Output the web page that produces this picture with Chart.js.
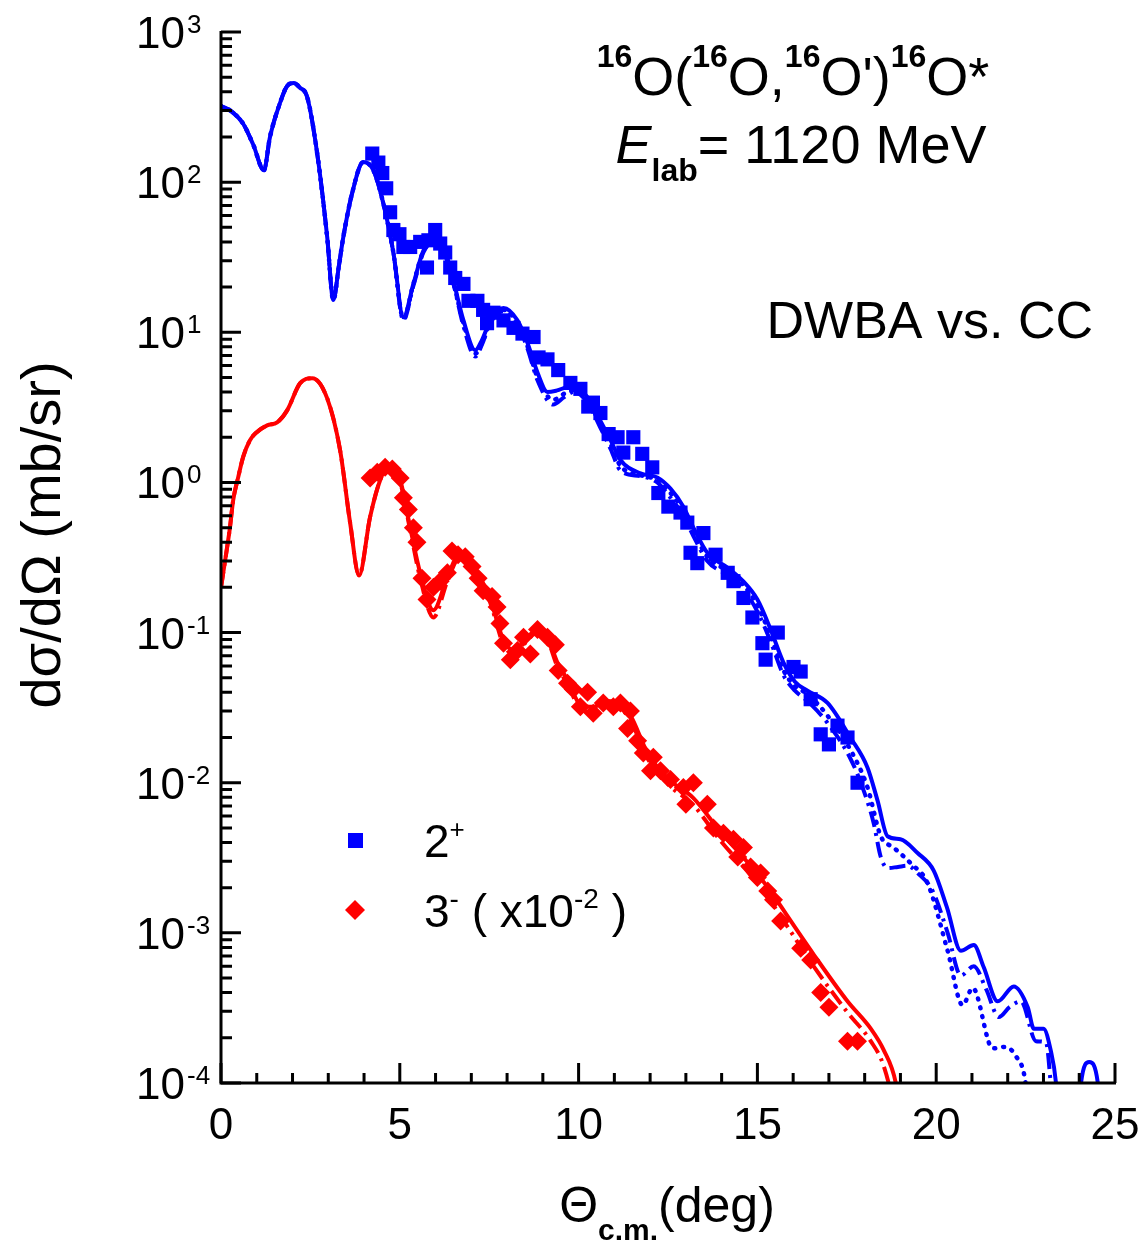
<!DOCTYPE html>
<html>
<head>
<meta charset="utf-8">
<script src="https://cdn.jsdelivr.net/npm/chart.js@4.4.1/dist/chart.umd.min.js"></script>
<style>
  html, body { margin: 0; padding: 0; background: #fff; }
  #wrap { width: 1141px; height: 1241px; }
</style>
</head>
<body>
<div id="wrap"><canvas id="chart" width="1141" height="1241"></canvas></div>
<script>
// 2+ data (mb/sr)
const blueDataX = [4.23,4.40,4.51,4.62,4.73,4.82,4.99,5.10,5.29,5.57,5.76,5.80,5.99,6.13,6.27,6.41,6.55,6.78,6.92,7.17,7.33,7.44,7.62,7.90,8.18,8.43,8.74,8.88,9.13,9.43,9.77,10.05,10.27,10.40,10.61,10.84,11.09,11.25,11.53,11.78,12.06,12.23,12.51,12.85,13.04,13.13,13.32,13.49,13.83,14.17,14.33,14.61,14.86,15.14,15.23,15.57,16.01,16.21,16.49,16.77,17.00,17.24,17.52,17.80];
const blueDataY = [155,135,115,91,63,48,45,37,37,40,27,41,48,39,34,27,23,21,16.2,16.2,14.1,11.5,13.5,12.0,10.7,9.8,9.3,6.8,6.6,5.6,4.6,4.2,3.2,3.4,2.9,2.1,2.0,1.58,2.0,1.55,1.26,0.85,0.69,0.63,0.54,0.34,0.29,0.46,0.33,0.25,0.22,0.17,0.126,0.085,0.066,0.10,0.059,0.055,0.036,0.021,0.018,0.024,0.020,0.010];

// 3- data (x10^-2)
const redDataX = [4.17,4.37,4.59,4.79,5.01,5.10,5.24,5.38,5.48,5.62,5.76,5.94,6.13,6.33,6.46,6.63,6.83,7.02,7.19,7.33,7.58,7.72,7.80,7.90,8.09,8.29,8.46,8.65,8.85,9.13,9.35,9.43,9.69,9.85,10.05,10.25,10.41,10.69,10.97,11.17,11.37,11.45,11.65,11.81,12.01,12.09,12.29,12.57,12.93,13.00,13.21,13.60,13.77,14.05,14.33,14.45,14.61,14.81,15.00,15.09,15.29,15.45,15.65,16.21,16.49,16.77,17.00,17.52,17.80];
const redDataY = [1.07,1.17,1.26,1.23,1.07,0.79,0.66,0.50,0.40,0.23,0.166,0.20,0.22,0.25,0.35,0.33,0.32,0.275,0.23,0.19,0.174,0.148,0.115,0.085,0.066,0.076,0.093,0.072,0.105,0.093,0.083,0.056,0.046,0.042,0.032,0.040,0.029,0.034,0.032,0.034,0.023,0.030,0.019,0.0158,0.012,0.0148,0.012,0.0105,0.0093,0.0072,0.010,0.0072,0.0050,0.0046,0.0042,0.0032,0.0037,0.00275,0.00234,0.0025,0.0019,0.00166,0.0012,7.9e-4,6.6e-4,4.0e-4,3.2e-4,1.9e-4,1.9e-4];

// 2+ curves: common forward part, then solid / dash-dot / dotted
const blueLowX = [0,0.3,0.62,0.9,1.2,1.37,1.65,1.85,2.04,2.2,2.41,2.69,2.97,3.14,3.3,3.42,3.67,3.98,4.26,4.54,4.82];
const blueLowY = [321,295,245,178,120,200,337,437,457,427,369,155,43,16.4,28,43,85,136,120,72,34];

const blueSolidX = [5.1,5.38,5.66,5.94,6.22,6.5,6.78,7.11,7.3,7.53,7.9,8.29,8.57,8.85,9.13,9.4,9.69,9.86,10.25,10.6,10.9,11.17,11.73,12.2,12.57,12.93,13.21,13.6,14.17,14.6,15.0,15.37,15.73,16.05,16.4,16.96,17.6,18.08,18.36,18.64,19.0,19.48,19.93,20.3,20.69,21.05,21.33,21.72,22.17,22.56,22.73,23.0,23.2,23.35,23.5,23.9,24.05,24.28,24.52,24.7];
const blueSolidY = [12.6,21,35,41,37,22,12,7.6,8.9,12,14.5,12,8.5,5.4,4.0,4.1,4.3,4.3,3.7,2.6,1.9,1.41,1.15,1.08,0.91,0.69,0.50,0.34,0.27,0.22,0.166,0.105,0.063,0.047,0.041,0.034,0.020,0.0126,0.0076,0.0044,0.0042,0.0034,0.0026,0.00148,7.6e-4,8.3e-4,5.9e-4,3.5e-4,4.4e-4,3.2e-4,2.3e-4,2.3e-4,1.66e-4,1.0e-4,3e-5,3e-5,1e-4,1.38e-4,1e-4,3e-5];

const blueDashDotX = [5.1,5.38,5.66,5.94,6.22,6.5,6.78,7.11,7.3,7.53,7.9,8.29,8.57,8.85,9.29,9.6,9.86,10.25,10.6,10.9,11.17,11.73,12.2,12.57,12.93,13.21,13.6,14.17,14.6,15.0,15.37,15.73,16.05,16.4,16.96,17.6,17.97,18.25,18.45,18.64,18.93,19.2,19.48,19.9,20.32,20.69,21.05,21.4,21.75,22.05,22.37,22.79,23.07,23.2,23.35];
const blueDashDotY = [12.0,20.4,34,40,35,21,11,6.9,8.3,11.5,13.8,11.2,7.8,4.8,3.3,3.7,4.0,3.4,2.34,1.66,1.2,1.10,1.0,0.79,0.60,0.44,0.30,0.24,0.195,0.138,0.087,0.052,0.041,0.035,0.025,0.0145,0.0089,0.0054,0.0032,0.0027,0.00275,0.0028,0.0025,0.0019,0.0010,5.2e-4,6.0e-4,4.2e-4,2.75e-4,3.2e-4,3.5e-4,1.9e-4,1.86e-4,1e-4,3e-5];

const blueDotX = [5.1,5.38,5.66,5.94,6.22,6.5,6.78,7.11,7.3,7.53,7.9,8.29,8.57,8.85,9.29,9.6,9.86,10.25,10.6,10.9,11.17,11.73,12.2,12.57,12.93,13.21,13.6,14.17,14.6,15.0,15.37,15.73,16.05,16.4,16.96,17.6,18.08,18.45,18.81,19.29,19.76,20.32,20.74,21.02,21.58,21.9,22.23,22.5,22.7];
const blueDotY = [12.3,21,34.7,40,36,21.4,11.5,7.2,8.5,11.7,14.1,11.5,8.1,5.0,3.55,3.9,4.1,3.55,2.45,1.78,1.29,1.12,1.035,0.85,0.65,0.47,0.32,0.257,0.209,0.151,0.095,0.056,0.044,0.039,0.028,0.0166,0.0093,0.0044,0.0037,0.0029,0.00214,7.6e-4,3.3e-4,4.3e-4,1.7e-4,1.74e-4,1.51e-4,1e-4,3e-5];

// 3- curves
const redLowX = [0,0.16,0.25,0.34,0.48,0.62,0.81,1.0,1.29,1.57,1.85,2.21,2.55,2.97,3.33,3.61,3.86,4.17,4.45,4.68];
const redLowY = [0.20,0.355,0.50,0.76,1.08,1.48,1.91,2.16,2.40,2.51,3.02,4.57,4.95,3.63,1.64,0.54,0.24,0.59,1.035,1.26];
const redTailX = [5.01,5.29,5.57,5.94,6.33,6.69,7.17,7.53,7.9,8.2,8.5,8.85,9.13,9.41,9.7,10.05,10.4,10.8,11.17,11.45,11.93,12.49,13.21,13.97,14.7,15.37,15.65,16.57,17.52,18.17,18.53,18.87,19.05];
const redSolidY = [1.035,0.50,0.25,0.141,0.234,0.34,0.25,0.166,0.089,0.076,0.089,0.105,0.093,0.063,0.048,0.033,0.032,0.035,0.033,0.028,0.0158,0.0107,0.0079,0.0047,0.0030,0.0019,0.00151,7.2e-4,3.5e-4,2.3e-4,1.66e-4,1.0e-4,5e-5];
const redDashDotY = [1.0,0.48,0.23,0.126,0.22,0.32,0.24,0.158,0.083,0.072,0.085,0.100,0.089,0.059,0.045,0.031,0.0295,0.032,0.031,0.026,0.0145,0.0098,0.0071,0.0041,0.0026,0.00162,0.00129,6.0e-4,2.95e-4,1.9e-4,1.3e-4,6e-5,3e-5];

const xMajor = [0, 5, 10, 15, 20, 25];
const yPowers = [-4, -3, -2, -1, 0, 1, 2, 3];

const BLUE = '#0000ff';
const RED = '#ff0000';
const FONT = '"Liberation Sans", Arial, Helvetica, sans-serif';

function pts(xs, ys) {
    return xs.map((x, i) => ({ x: x, y: ys[i] }));
}

function curve(data, color, dash) {
    const dotted = dash && dash[0] < 3;
    return {
        type: 'line',
        data: data,
        borderColor: color,
        borderWidth: dotted ? 4.5 : 4,
        borderDash: dash || [],
        borderCapStyle: dotted ? 'round' : 'butt',
        pointRadius: 0,
        cubicInterpolationMode: 'monotone',
        fill: false
    };
}

// draws a run of text pieces: {t, size, bold, italic, dy}
function richText(ctx, parts, x, y, align) {
    let total = 0;
    parts.forEach(p => {
        ctx.font = `${p.italic ? 'italic ' : ''}${p.bold ? 'bold ' : ''}${p.size}px ${FONT}`;
        p.w = ctx.measureText(p.t).width;
        total += p.w;
    });
    let cx = align === 'center' ? x - total / 2 : (align === 'right' ? x - total : x);
    ctx.textAlign = 'left';
    ctx.textBaseline = 'alphabetic';
    parts.forEach(p => {
        ctx.font = `${p.italic ? 'italic ' : ''}${p.bold ? 'bold ' : ''}${p.size}px ${FONT}`;
        ctx.fillText(p.t, cx, y + (p.dy || 0));
        cx += p.w;
    });
}

const decor = {
    id: 'decor',
    afterDraw(chart) {
        const { ctx, chartArea: a, scales } = chart;
        const xs = scales.x, ys = scales.y;
        ctx.save();
        ctx.strokeStyle = '#000';
        ctx.fillStyle = '#000';
        ctx.lineWidth = 3;

        // axes (left + bottom only)
        ctx.beginPath();
        ctx.moveTo(a.left, a.top - 1);
        ctx.lineTo(a.left, a.bottom);
        ctx.lineTo(a.right + 1, a.bottom);
        ctx.stroke();

        // inward ticks
        ctx.beginPath();
        for (let d = 0; d <= 25; d++) {
            const px = xs.getPixelForValue(d);
            const len = d % 5 === 0 ? 20 : 10;
            ctx.moveTo(px, a.bottom);
            ctx.lineTo(px, a.bottom - len);
        }
        yPowers.forEach(p => {
            for (let k = 1; k <= 9; k++) {
                if (p === 3 && k > 1) break;
                const py = ys.getPixelForValue(k * Math.pow(10, p));
                ctx.moveTo(a.left, py);
                ctx.lineTo(a.left + (k === 1 ? 20 : 11), py);
            }
        });
        ctx.stroke();

        // tick labels
        ctx.textBaseline = 'alphabetic';
        yPowers.forEach(p => {
            const py = ys.getPixelForValue(Math.pow(10, p));
            ctx.font = `44px ${FONT}`;
            ctx.textAlign = 'right';
            ctx.fillText('10', 185, py + 16);
            ctx.font = `26px ${FONT}`;
            ctx.textAlign = 'left';
            ctx.fillText(String(p), 187, py + 1);
        });
        ctx.font = `44px ${FONT}`;
        ctx.textAlign = 'center';
        xMajor.forEach(v => {
            ctx.fillText(String(v), xs.getPixelForValue(v), 1139);
        });

        // axis titles
        richText(ctx, [
            { t: '\u0398', size: 50 },
            { t: 'c.m.', size: 30, bold: true, dy: 18 },
            { t: '(deg)', size: 50 }
        ], 667, 1222, 'center');

        ctx.save();
        ctx.translate(60, 535);
        ctx.rotate(-Math.PI / 2);
        richText(ctx, [{ t: 'd\u03c3/d\u03a9 (mb/sr)', size: 56 }], 0, 0, 'center');
        ctx.restore();

        // reaction label
        richText(ctx, [
            { t: '16', size: 32, bold: true, dy: -28 },
            { t: 'O(', size: 54 },
            { t: '16', size: 32, bold: true, dy: -28 },
            { t: 'O,', size: 54 },
            { t: '16', size: 32, bold: true, dy: -28 },
            { t: "O')", size: 54 },
            { t: '16', size: 32, bold: true, dy: -28 },
            { t: 'O*', size: 54 }
        ], 793, 95, 'center');
        richText(ctx, [
            { t: 'E', size: 54, italic: true },
            { t: 'lab', size: 32, bold: true, dy: 18 },
            { t: '= 1120 MeV', size: 54 }
        ], 801, 163, 'center');
        richText(ctx, [{ t: 'DWBA vs. CC', size: 52 }], 1093, 338, 'right');

        // legend
        ctx.fillStyle = BLUE;
        ctx.fillRect(348, 833, 15, 15);
        ctx.fillStyle = RED;
        ctx.beginPath();
        ctx.moveTo(355, 900); ctx.lineTo(365, 910); ctx.lineTo(355, 920); ctx.lineTo(345, 910);
        ctx.closePath();
        ctx.fill();
        ctx.fillStyle = '#000';
        richText(ctx, [
            { t: '2', size: 46 },
            { t: '+', size: 26, dy: -19 }
        ], 424, 857, 'left');
        richText(ctx, [
            { t: '3', size: 46 },
            { t: '-', size: 28, dy: -19 },
            { t: ' ( x10', size: 46 },
            { t: '-2', size: 28, dy: -19 },
            { t: ' )', size: 46 }
        ], 424, 927, 'left');

        ctx.restore();
    }
};

new Chart(document.getElementById('chart'), {
    type: 'scatter',
    data: {
        datasets: [
            {
                label: '2+',
                data: pts(blueDataX, blueDataY),
                pointStyle: 'rect',
                pointRadius: 10,
                backgroundColor: BLUE,
                borderColor: BLUE,
                borderWidth: 0,
                showLine: false
            },
            {
                label: '3- (x10-2)',
                data: pts(redDataX, redDataY),
                pointStyle: 'rectRot',
                pointRadius: 9.5,
                backgroundColor: RED,
                borderColor: RED,
                borderWidth: 0,
                showLine: false
            },
            curve(pts(blueLowX.concat(blueSolidX), blueLowY.concat(blueSolidY)), BLUE),
            curve(pts(blueLowX.concat(blueDashDotX), blueLowY.concat(blueDashDotY)), BLUE, [16, 6, 3, 6]),
            curve(pts(blueLowX.concat(blueDotX), blueLowY.concat(blueDotY)), BLUE, [1, 8]),
            curve(pts(redLowX.concat(redTailX), redLowY.concat(redSolidY)), RED),
            curve(pts(redLowX.concat(redTailX), redLowY.concat(redDashDotY)), RED, [16, 6, 3, 6])
        ]
    },
    options: {
        responsive: false,
        animation: false,
        layout: { padding: { left: 221, right: 26, top: 32, bottom: 158 } },
        plugins: { legend: { display: false }, tooltip: { enabled: false } },
        scales: {
            x: { type: 'linear', min: 0, max: 25, display: false },
            y: { type: 'logarithmic', min: 1e-4, max: 1e3, display: false }
        }
    },
    plugins: [decor]
});
</script>
</body>
</html>
